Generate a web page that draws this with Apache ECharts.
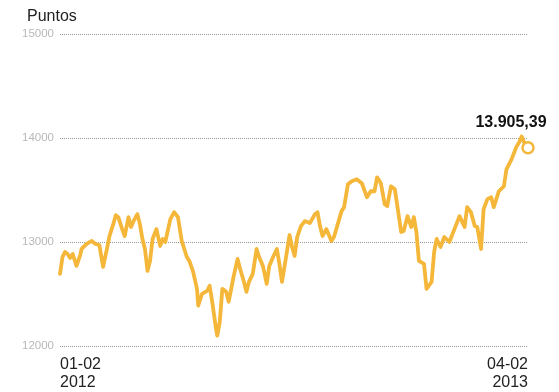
<!DOCTYPE html>
<html>
<head>
<meta charset="utf-8">
<script src="https://cdn.jsdelivr.net/npm/echarts@6/dist/echarts.min.js"></script>
<style>
  html, body { margin: 0; padding: 0; background: #fff; }
  #chart { width: 559px; height: 392px; }
</style>
</head>
<body>
<div id="chart"></div>
<script>
// Index closes, days counted from 01-02-2012
const dayOffsets = [0,2,4,6,8,10,13,16,17,21,25,28,31,34,37,39,42,44,46,49,51,54,56,58,61,63,65,67,69,71,73,76,79,81,83,87,90,93,96,100,102,105,108,109,112,116,118,120,123,124,126,128,131,133,135,137,140,142,145,147,149,152,155,157,160,163,165,168,171,173,175,178,181,183,185,187,190,193,197,201,203,205,207,210,214,216,219,222,224,227,230,234,238,242,245,248,250,253,256,258,261,264,266,269,271,274,277,279,281,283,287,289,293,295,297,300,303,307,311,315,319,321,324,327,329,332,334,337,340,342,346,350,352,356,360,362,364,366,369];
const closes = [12694,12856,12904,12885,12847,12885,12770,12876,12933,12981,13010,12981,12971,12761,12933,13057,13172,13258,13239,13124,13057,13239,13144,13201,13268,13172,13029,12933,12722,12818,13029,13124,12962,13029,13000,13220,13287,13239,13010,12856,12818,12713,12550,12388,12502,12531,12579,12426,12167,12100,12234,12550,12521,12426,12550,12675,12837,12742,12617,12521,12617,12694,12933,12856,12770,12598,12770,12856,12933,12789,12617,12837,13067,12952,12866,13048,13153,13201,13182,13268,13287,13153,13057,13124,13010,13048,13172,13297,13335,13555,13584,13603,13565,13431,13488,13488,13622,13565,13364,13345,13536,13507,13345,13096,13105,13249,13144,13239,13096,12818,12789,12550,12617,12904,13029,12952,13048,13000,13124,13249,13144,13335,13287,13153,13144,12933,13316,13412,13431,13335,13488,13536,13699,13794,13919,13957,14014,13957,13905.39];

// x-axis tick labels (first and last session)
const xTickDays = [0, 369];
const xTickLabels = ['01-02\n2012', '04-02\n2013'];
const yTicks = [12000, 13000, 14000, 15000];
const unitLabel = 'Puntos';

const FONT = '"Liberation Sans", Arial, sans-serif';
const GOLD = '#f4b73a';

function fmtEs(v) {
  const parts = v.toFixed(2).split('.');
  return parts[0].replace(/\B(?=(\d{3})+(?!\d))/g, '.') + ',' + parts[1];
}

const series = dayOffsets.map((d, i) => [d, closes[i]]);
const last = series[series.length - 1];

const chart = echarts.init(document.getElementById('chart'), null, { renderer: 'canvas' });
chart.setOption({
  animation: false,
  backgroundColor: '#fff',
  textStyle: { fontFamily: FONT },
  title: {
    text: unitLabel,
    left: 22, top: 4,
    textStyle: { fontFamily: FONT, fontSize: 16, fontWeight: 'normal', color: '#222' }
  },
  grid: { left: 60, right: 31, top: 34, bottom: 45, containLabel: false },
  xAxis: {
    type: 'value',
    min: xTickDays[0],
    max: xTickDays[xTickDays.length - 1],
    axisLine: { show: false },
    axisTick: { show: false },
    splitLine: { show: false },
    axisLabel: {
      customValues: xTickDays,
      alignMinLabel: 'left',
      alignMaxLabel: 'right',
      margin: 10,
      fontFamily: FONT,
      fontSize: 16,
      lineHeight: 18,
      color: '#222',
      formatter: (v) => {
        const k = xTickDays.indexOf(v);
        return k >= 0 ? xTickLabels[k] : '';
      }
    }
  },
  yAxis: {
    type: 'value',
    min: yTicks[0],
    max: yTicks[yTicks.length - 1],
    interval: 1000,
    axisLine: { show: false },
    axisTick: { show: false },
    axisLabel: {
      fontFamily: FONT, fontSize: 11.5, color: '#b8b8b8', margin: 6,
      formatter: (v) => String(v)
    },
    splitLine: { lineStyle: { type: 'dotted', color: '#9a9a9a', width: 1 } }
  },
  series: [
    {
      type: 'line',
      data: series,
      showSymbol: false,
      lineStyle: { color: GOLD, width: 3.8, join: 'round', cap: 'round' },
      z: 2
    },
    {
      type: 'scatter',
      data: [last],
      symbol: 'circle',
      symbolSize: 11,
      itemStyle: { color: '#fff', borderColor: GOLD, borderWidth: 2.5, opacity: 1 },
      emphasis: { disabled: true },
      label: {
        show: true,
        position: 'top',
        offset: [-17, -5],
        fontFamily: FONT,
        fontSize: 16,
        fontWeight: 'bold',
        color: '#111',
        opacity: 1,
        formatter: (p) => fmtEs(p.value[1])
      },
      z: 3
    }
  ]
});
</script>
</body>
</html>
